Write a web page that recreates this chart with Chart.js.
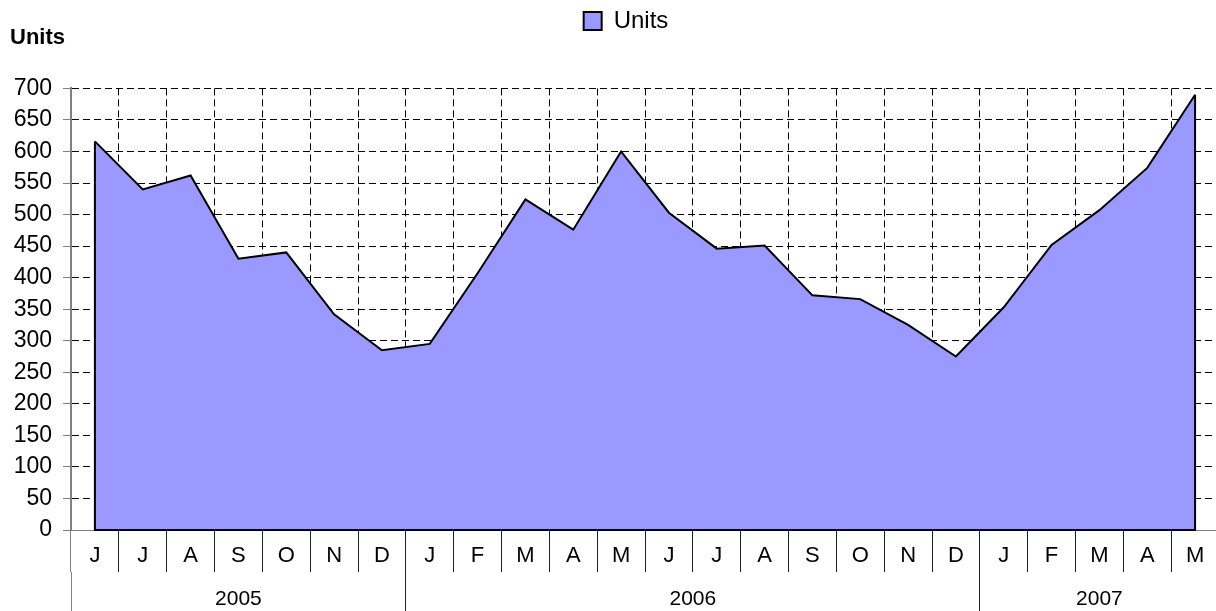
<!DOCTYPE html>
<html>
<head>
<meta charset="utf-8">
<script src="https://cdn.jsdelivr.net/npm/chart.js@4"></script>
<style>
  html, body { margin: 0; padding: 0; background: #fff; overflow: hidden; }
  canvas { display: block; }
</style>
</head>
<body>
<canvas id="unitsChart" width="1242" height="611"></canvas>
<script>
const months = ["J", "J", "A", "S", "O", "N", "D",
  "J", "F", "M", "A", "M", "J", "J", "A", "S", "O", "N", "D",
  "J", "F", "M", "A", "M"];
const units = [616, 540, 562, 430, 440, 342, 285,
  295, 407, 524, 476, 600, 503, 446, 451, 372, 366, 325, 275,
  353, 452, 507, 574, 690];
const years = ["2005", "2006", "2007"];
const monthsPerYear = [7, 12, 5];
const yTicks = { min: 0, max: 700, step: 50 };

// year axis ticks: boundaries between years + one centred tick per year
const yearTicks = [];
let pos = 0;
yearTicks.push({ value: 0, edge: true });
monthsPerYear.forEach((n, i) => {
  yearTicks.push({ value: pos + n / 2, label: years[i] });
  pos += n;
  yearTicks.push({ value: pos, edge: true });
});

const dash = [7, 4];
const grey = "#808080";

Chart.defaults.font.family = '"Liberation Sans", Arial, sans-serif';
Chart.defaults.color = "#000";

// closes the area outline (left edge, baseline, right edge)
const outline = {
  id: "outline",
  afterDatasetsDraw(chart) {
    const pts = chart.getDatasetMeta(0).data;
    const y0 = chart.scales.y.getPixelForValue(0);
    const first = pts[0], last = pts[pts.length - 1];
    const ctx = chart.ctx;
    ctx.save();
    ctx.strokeStyle = "#000";
    ctx.lineWidth = 2;
    ctx.beginPath();
    ctx.moveTo(first.x, first.y);
    ctx.lineTo(first.x, y0);
    ctx.lineTo(last.x, y0);
    ctx.lineTo(last.x, last.y);
    ctx.stroke();
    ctx.restore();
  }
};

new Chart(document.getElementById("unitsChart"), {
  type: "line",
  data: {
    labels: months,
    datasets: [{
      label: "Units",
      data: units,
      borderColor: "#000",
      borderWidth: 2,
      backgroundColor: "#9999ff",
      fill: "origin",
      pointRadius: 0,
      tension: 0
    }]
  },
  options: {
    responsive: false,
    animation: false,
    events: [],
    layout: { padding: { left: 10, top: 0, right: 0, bottom: 0 } },
    plugins: {
      legend: {
        position: "top",
        labels: { font: { size: 24 }, boxWidth: 18, boxHeight: 18, padding: 9 }
      },
      title: {
        display: true,
        text: "Units",
        align: "start",
        weight: 500,
        font: { size: 22, weight: "bold" },
        padding: { top: -18, bottom: 37 }
      },
      tooltip: { enabled: false }
    },
    scales: {
      x: {
        type: "category",
        offset: true,
        weight: 0,
        grid: {
          offset: true,
          color: c => c.index === 0 ? "rgba(0,0,0,0)" : "#000",
          tickLength: 42,
          tickColor: c => c.index === 0 ? grey : "#222",
          tickBorderDash: []
        },
        border: { color: grey, width: 1, dash: dash },
        ticks: { font: { size: 22 }, padding: -29, autoSkip: false, maxRotation: 0 },
        afterFit(s) { s.height = 42; }
      },
      x2: {
        type: "linear",
        axis: "x",
        position: "bottom",
        weight: 1,
        min: 0,
        max: months.length,
        afterBuildTicks(s) { s.ticks = yearTicks.map(t => ({ value: t.value })); },
        grid: {
          drawOnChartArea: false,
          tickLength: 40,
          tickColor: c => {
            const t = yearTicks[c.index];
            if (!t || !t.edge) return "rgba(0,0,0,0)";
            return t.value === 0 ? grey : "#222";
          },
          tickBorderDash: []
        },
        border: { display: false },
        ticks: {
          font: { size: 21 },
          padding: -25,
          autoSkip: false,
          maxRotation: 0,
          callback: (v, i) => yearTicks[i].label || ""
        },
        afterFit(s) { s.height = 39; }
      },
      y: {
        min: yTicks.min,
        max: yTicks.max,
        grid: {
          color: c => c.tick && c.tick.value === 0 ? "rgba(0,0,0,0)" : "#000",
          tickLength: 8,
          tickColor: grey,
          tickBorderDash: []
        },
        border: { color: grey, width: 2, dash: dash },
        ticks: { stepSize: yTicks.step, font: { size: 23 }, padding: 11 },
        afterFit(s) { s.width = 61; }
      },
      yR: {
        type: "linear",
        axis: "y",
        position: "right",
        grid: { display: false, drawTicks: false },
        border: { display: false },
        ticks: { display: false },
        afterFit(s) { s.width = 23; }
      }
    }
  },
  plugins: [outline]
});
</script>
</body>
</html>
